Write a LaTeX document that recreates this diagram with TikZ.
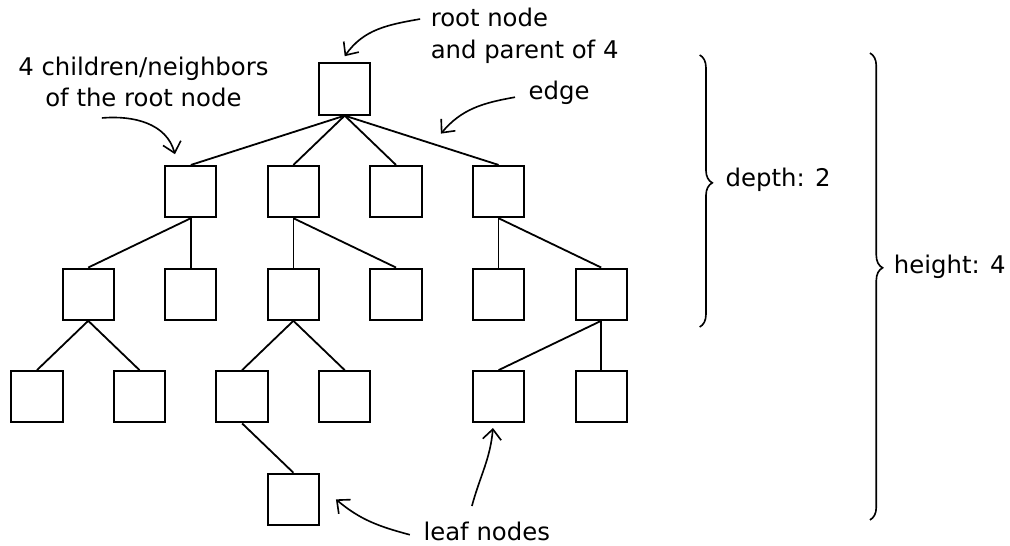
\documentclass[tikz,border=0pt]{standalone}
\usepackage{fontspec}
\setmainfont{DejaVu Sans}
\usepackage{tikz}
\usetikzlibrary{arrows.meta,decorations.pathreplacing}
\tikzset{
  box/.style={draw, line width=1.1pt, minimum size=1cm, inner sep=0pt},
  lbl/.style={inner sep=0pt, anchor=base west},
  pointer/.style={-{Straight Barb[length=2mm, width=3.6mm]}, line width=0.9pt},
  curly/.style={decorate, decoration={brace, amplitude=7pt, aspect=#1}, line width=0.9pt}
}

\begin{document}
\begin{tikzpicture}[font=\fontsize{13.5}{17.7}\selectfont, line width=1pt]
  \useasboundingbox (-0.72,1.735) rectangle (18.97,-8.89);
  \node[box] (r) at (6,0) {};
  \foreach \k [count=\i] in {3,5,7,9}   \node[box] (a\i) at (\k,-2) {};
  \foreach \k [count=\i] in {1,3,5,7,9,11} \node[box] (b\i) at (\k,-4) {};
  \foreach \k [count=\i] in {0,2,4,6,9,11} \node[box] (c\i) at (\k,-6) {};
  \node[box] (d1) at (5,-8) {};
  \foreach \p/\c in {r/a1,r/a2,r/a3,a1/b1,a1/b2,a2/b3,a2/b4,a4/b5,a4/b6,
                     b1/c1,b1/c2,b3/c3,b3/c4,b6/c5,b6/c6,c3/d1}
    \draw (\p.south) -- (\c.north);
  \draw (r.south) -- coordinate[pos=0.625] (onedge) (a4.north);

  % labels and their pointers (base = last line)
  \node[lbl, align=left] (rootlbl) at (7.66,0.604) {root node\\and parent of 4};
  \node[inner sep=0pt, anchor=base, align=center] (kidslbl) at (2.076,-0.35)
    {4 children/neighbors\\of the root node};
  \node[lbl] (edgelbl) at (9.57,-0.21) {edge};
  \node[lbl] (leaflbl) at (7.52,-8.81) {leaf nodes};
  \draw[pointer] ([shift={(-0.19,0.76)}]rootlbl.base west) to[out=190, in=55] ([yshift=1.2mm]r.north);
  \draw[pointer] ([shift={(-0.81,-0.215)}]kidslbl.base) to[out=5, in=105] ([shift={(-0.31,0.21)}]a1.north);
  \draw[pointer] ([shift={(-0.25,0.05)}]edgelbl.base west) to[out=190, in=50] ([yshift=2.5mm]onedge);
  \draw[pointer] ([shift={(-0.25,0.12)}]leaflbl.base west) to[out=165, in=-40] ([xshift=3.1mm]d1.east);
  \draw[pointer] ([shift={(0.96,0.68)}]leaflbl.base west) to[out=75, in=-95] ([shift={(-0.11,-0.09)}]c5.south);

  % depth and height
  \draw[curly=0.47] (12.92,0.663) -- (12.92,-4.64);
  \node[lbl] (depthlbl) at (13.41,-1.91) {depth: 2};
  \draw[curly=0.46] (16.24,0.70) -- (16.24,-8.40);
  \node[lbl] (heightlbl) at (16.69,-3.59) {height: 4};
\end{tikzpicture}
\end{document}
